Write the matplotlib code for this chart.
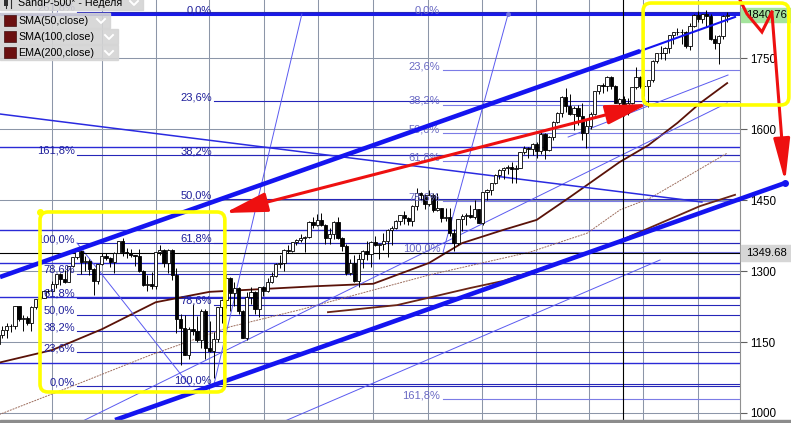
import matplotlib.pyplot as plt
from matplotlib.patches import Rectangle, FancyBboxPatch, FancyArrowPatch
from matplotlib.lines import Line2D
from matplotlib.transforms import IdentityTransform, blended_transform_factory

plt.rcParams['font.family'] = ['Liberation Sans', 'DejaVu Sans']

# weekly candles, week 0 = week ending 2010-10-01, opens = previous close
first_open = 1148.7
closes = [1146.2, 1165.2, 1176.2, 1183.1, 1183.3, 1225.9, 1199.2, 1199.7, 1189.4, 1224.7, 1240.4, 1243.9, 1256.8, 1257.6,
          1271.5, 1293.2, 1283.4, 1276.3, 1310.9, 1329.2, 1343.0, 1319.9, 1321.2, 1304.3, 1279.2, 1313.8, 1332.4, 1328.2,
          1319.7, 1337.4, 1363.6, 1340.2, 1337.8, 1333.3, 1331.1, 1300.2, 1271.0, 1271.5, 1268.5, 1339.7, 1343.8, 1316.1,
          1345.0, 1292.3, 1199.4, 1178.8, 1123.5, 1176.8, 1174.0, 1154.2, 1216.0, 1136.4, 1131.4, 1155.5, 1224.6, 1238.3,
          1285.1, 1253.2, 1263.9, 1215.7, 1158.7, 1244.3, 1255.2, 1219.7, 1265.3, 1257.6,
          1277.8, 1289.1, 1315.4, 1316.3, 1344.9, 1342.6, 1361.2, 1365.7, 1369.6, 1370.9, 1404.2, 1397.1, 1408.5, 1398.1,
          1370.3, 1378.5, 1403.4, 1369.1, 1353.4, 1295.2, 1317.8, 1278.0, 1325.7, 1342.8, 1335.0, 1362.2, 1354.7, 1356.8,
          1362.7, 1386.0, 1391.0, 1405.9, 1418.2, 1411.1, 1406.6, 1437.9, 1465.8, 1460.2, 1440.7, 1460.9, 1428.6, 1433.2,
          1411.9, 1414.2, 1379.9, 1359.9, 1409.2, 1416.2, 1418.1, 1413.6, 1430.2, 1402.4,
          1466.5, 1472.1, 1486.0, 1503.0, 1513.2, 1517.9, 1519.8, 1515.6, 1518.2, 1551.2, 1560.7, 1556.9, 1569.2, 1553.3,
          1588.9, 1555.3, 1582.2, 1614.4, 1633.7, 1667.5, 1649.6, 1630.7, 1643.4, 1626.7, 1592.4, 1606.3, 1631.9, 1680.2,
          1692.1, 1691.7, 1709.7, 1691.4, 1655.8, 1663.5, 1633.0, 1655.2, 1688.0, 1709.9, 1691.8, 1690.5, 1703.2, 1744.5,
          1759.8, 1761.6, 1770.6, 1798.2, 1804.8, 1805.8, 1805.1, 1775.3, 1818.3, 1841.4,
          1831.4, 1842.4, 1838.7, 1790.3, 1782.6, 1797.0, 1838.6, 1840.8]
highs = [1151, 1167, 1184, 1190, 1189, 1227, 1227, 1207, 1205, 1226, 1241, 1247, 1259, 1262,
         1278, 1294, 1296, 1302, 1311, 1330, 1344, 1344, 1332, 1325, 1306, 1315, 1337, 1339,
         1330, 1340, 1364, 1370, 1348, 1346, 1334, 1346, 1303, 1292, 1298, 1341, 1356, 1346,
         1347, 1347, 1307, 1209, 1208, 1182, 1230, 1204, 1220, 1220, 1195, 1171, 1225, 1240,
         1293, 1287, 1277, 1266, 1217, 1255, 1267, 1258, 1266, 1269,
         1285, 1297, 1316, 1333, 1346, 1354, 1362, 1368, 1378, 1374, 1405, 1414, 1420, 1422,
         1400, 1391, 1406, 1415, 1372, 1358, 1325, 1334, 1335, 1344, 1364, 1363, 1375, 1358,
         1381, 1389, 1395, 1407, 1419, 1427, 1414, 1439, 1475, 1467, 1463, 1471, 1464, 1465,
         1434, 1434, 1433, 1389, 1410, 1420, 1423, 1439, 1449, 1432,
         1467, 1473, 1487, 1504, 1515, 1519, 1525, 1531, 1525, 1552, 1564, 1563, 1570, 1573,
         1593, 1592, 1585, 1618, 1635, 1669, 1687, 1674, 1649, 1651, 1654, 1620, 1635, 1681,
         1693, 1698, 1711, 1712, 1694, 1665, 1670, 1665, 1689, 1730, 1712, 1700, 1704, 1745,
         1761, 1775, 1774, 1799, 1806, 1813, 1811, 1808, 1823, 1844,
         1849, 1843, 1851, 1844, 1798, 1798, 1841, 1847]
lows = [1131, 1132, 1159, 1159, 1171, 1177, 1194, 1174, 1186, 1173, 1220, 1233, 1243, 1254,
        1256, 1265, 1271, 1275, 1276, 1309, 1326, 1294, 1299, 1292, 1249, 1273, 1313, 1324,
        1309, 1295, 1337, 1332, 1328, 1329, 1311, 1297, 1268, 1258, 1262, 1263, 1333, 1309,
        1296, 1282, 1168, 1101, 1122, 1115, 1164, 1150, 1137, 1114, 1129, 1074, 1150, 1191,
        1221, 1215, 1226, 1209, 1158, 1155, 1231, 1209, 1202, 1248,
        1255, 1275, 1287, 1306, 1300, 1337, 1340, 1355, 1362, 1340, 1370, 1391, 1395, 1395,
        1357, 1358, 1367, 1367, 1343, 1291, 1292, 1277, 1267, 1306, 1324, 1309, 1352, 1326,
        1345, 1329, 1354, 1389, 1397, 1400, 1397, 1396, 1429, 1450, 1430, 1438, 1425, 1427,
        1403, 1406, 1373, 1343, 1356, 1385, 1398, 1411, 1410, 1401,
        1398, 1451, 1461, 1483, 1494, 1495, 1506, 1485, 1485, 1517, 1547, 1538, 1546, 1539,
        1548, 1536, 1553, 1577, 1612, 1626, 1636, 1630, 1598, 1608, 1577, 1560, 1601, 1630,
        1675, 1676, 1681, 1684, 1654, 1640, 1627, 1630, 1653, 1684, 1687, 1670, 1646, 1700,
        1740, 1747, 1746, 1761, 1779, 1799, 1779, 1772, 1768, 1815,
        1827, 1823, 1815, 1789, 1770, 1738, 1791, 1826]
opens = [first_open] + closes[:-1]
weeks = list(range(len(closes)))

# moving averages (week, price)
sma50_week = [1, 14, 26, 39, 52, 65, 78, 91.5, 105, 113, 123, 131, 139, 151, 158, 165, 170.5, 177]
sma50_val = [1106, 1133, 1177, 1234, 1256, 1262, 1268, 1273, 1317, 1359, 1387, 1408, 1456, 1530, 1566, 1613, 1655, 1697]
sma100_week = [1, 19.5, 37.6, 56.9, 73.8, 105.2, 129.4, 143.2, 151.1, 158.4, 177]
sma100_val = [996, 1059, 1122, 1182, 1218, 1292, 1340, 1380, 1429, 1454, 1549]
ema200_week = [80.6, 97.3, 114.9, 122.9, 146.3, 170.4, 178.9]
ema200_val = [1213, 1228, 1264, 1279, 1346, 1437, 1461]

# fibonacci sets: (0% price, 100% price, levels, label week, line start week)
fib_a = (1843.0, 1061.3, [0, 23.6, 38.2, 50, 61.8, 78.6, 100], 52.6, 53.1)
fib_b = (1843.0, 1340.2, [0, 23.6, 38.2, 50, 61.8, 78.6, 100, 161.8], 107.7, 108.4)
fib_c = (1057.0, 1359.2, [0, 23.6, 38.2, 50, 61.8, 78.6, 100, 161.8, 261.8], 19.5, 20.0)
extra_levels = [1562.0, 1386.6, 1316.9, 1245.1, 1105.6]
top_level = 1843.0

price_ticks = [1000, 1150, 1300, 1450, 1600, 1750]
grid_weeks = [14, 26, 39.1, 51.9, 65.2, 78.2, 91.5, 104.8, 117.8, 130.8, 143.6, 156.7, 170]
cursor_week, cursor_price, cursor_text = 151.8, 1338.0, '1349.68'
last_price = 1840.76

fig = plt.figure(figsize=(7.91, 4.23), dpi=100)
ax = fig.add_axes([0, 3 / 423, 740 / 791, 420 / 423])
ax.set_xlim(1.4, 180.1)
ax.set_ylim(985.2, 1872.6)
ax.set_facecolor('white')

for w in grid_weeks:
    ax.axvline(w, color='#8c96a8', lw=0.75, zorder=1)
for p in price_ticks:
    ax.axhline(p, color='#8c96a8', lw=0.75, zorder=1)

# fib levels
def fib_price(p0, p100, r):
    return p0 + (p100 - p0) * r / 100.0

for (p0, p100, levels, lab_w, start_w), lcol, tcol in [(fib_c, '#2626b8', '#1e1e9a'),
                                                       (fib_a, '#2626b8', '#1e1e9a'),
                                                       (fib_b, '#7c7ce6', '#6a6ac4')]:
    for r in levels:
        p = fib_price(p0, p100, r)
        ax.plot([start_w, 181], [p, p], color=lcol, lw=0.8, zorder=2)
        ax.text(lab_w, p + 2, f'{r:.1f}'.replace('.', ',') + '%', ha='right', va='baseline',
                fontsize=8, color=tcol, zorder=6)
for p in extra_levels:
    ax.axhline(p, color='#2a2ad6', lw=1.0, zorder=2)
ax.axhline(top_level, color='#1a1ae6', lw=2.2, zorder=3)

# moving averages
ax.plot(sma100_week, sma100_val, color='#9c6c5c', lw=0.7, ls=(0, (2, 1)), zorder=3)
ax.plot(ema200_week, ema200_val, color='#6a2414', lw=1.3, zorder=3)
ax.plot(sma50_week, sma50_val, color='#5a1208', lw=1.3, zorder=3)

# candles
ax.vlines(weeks, lows, highs, color='black', lw=0.7, zorder=4)
bodies_lo = [min(o, c) for o, c in zip(opens, closes)]
bodies_h = [abs(c - o) for o, c in zip(opens, closes)]
colors = ['white' if c >= o else 'black' for o, c in zip(opens, closes)]
ax.bar(weeks, bodies_h, bottom=bodies_lo, width=0.78, color=colors, edgecolor='black', lw=0.6, zorder=5)

# thin trend and fib anchor lines
thin = dict(color='#5a5af0', lw=0.7, zorder=3)
ax.plot([20.0, 47.3], [1359.2, 1057.0], **thin)
ax.plot([53.1, 74.3], [1061.3, 1843.0], **thin)
ax.plot([108.4, 124.1], [1340.2, 1843.0], **thin)
ax.plot([124.1], [1843.0], 'o', color='#7070e0', ms=2.5, zorder=3)
ax.plot([21.4, 177.0], [983.1, 1655.0], **thin)
ax.plot([70.2, 160.8], [983.1, 1323.3], **thin)
ax.plot([138.6, 177.2], [1583.1, 1714.1], **thin)
ax.plot([1.4, 170.9], [1631.7, 1445.8], color='#2a2ae0', lw=1.1, zorder=3)

# channel
ax.plot([1.4, 156.0], [1287.3, 1764.8], color='#1414f0', lw=3.3, zorder=6, solid_capstyle='butt')
ax.plot([156.0, 178.9], [1764.8, 1836.7], color='#1414f0', lw=1.5, zorder=6)
ax.plot([29.2, 191.0], [985.2, 1486.0], color='#1414f0', lw=3.3, zorder=6, clip_on=False,
        solid_capstyle='butt')
ax.plot([191.0], [1486.0], 'o', color='#1414f0', ms=4, zorder=6, clip_on=False)

# crosshair
ax.axvline(cursor_week, color='black', lw=0.8, zorder=4)
ax.axhline(cursor_price, color='black', lw=0.8, zorder=4)

# red arrows
ax.add_patch(FancyArrowPatch((55.7, 1422.6), (157.9, 1652.9),
                             arrowstyle='<|-|>,head_length=2.6,head_width=0.6', mutation_scale=10,
                             color='#ee1010', lw=2.2, shrinkA=0, shrinkB=0, zorder=8))
ax.plot([180.1, 181.8, 185.4, 187.8], [1872.6, 1843.0, 1805.0, 1847.2], color='#ee1010', lw=2.2,
        clip_on=False, zorder=8, solid_joinstyle='miter')
ax.annotate('', xy=(191.0, 1488.1), xytext=(187.8, 1847.2), annotation_clip=False,
            arrowprops=dict(arrowstyle='-|>,head_length=2.6,head_width=0.5', mutation_scale=10,
                            color='#ee1010', lw=2.2, shrinkA=0, shrinkB=0), zorder=8)

# right axis
ax.yaxis.tick_right()
ax.set_yticks(price_ticks)
ax.set_yticklabels([str(p) for p in price_ticks])
ax.tick_params(axis='y', direction='out', length=5, width=0.8, pad=2, labelsize=8.4,
               color='#606060', labelcolor='black')
ax.set_xticks([])
for s in ['left', 'top', 'bottom']:
    ax.spines[s].set_visible(False)
ax.spines['right'].set_color('#909090')

bt = blended_transform_factory(ax.transAxes, ax.transData)
ax.add_patch(Rectangle((1.0015, last_price - 14), 0.068, 28, transform=bt, color='#a4e49c',
                       clip_on=False, zorder=7))
ax.text(1.008, last_price, f'{last_price:.2f}', transform=bt, ha='left', va='center',
        fontsize=8.1, color='black', zorder=7.5, clip_on=False)
ax.add_patch(Rectangle((1.0015, cursor_price - 16), 0.068, 32, transform=bt, color='#d6d6d6',
                       clip_on=False, zorder=7))
ax.text(1.008, cursor_price, cursor_text, transform=bt, ha='left', va='center',
        fontsize=8.1, color='black', zorder=8, clip_on=False)

# yellow boxes (corners given in week/price)
fig.canvas.draw()
for (w0, p0), (w1, p1) in [((11.06, 1424.7), (55.7, 1044.4)), ((156.7, 1866.2), (191.9, 1650.8))]:
    x0, y0 = ax.transData.transform((w0, p1))
    x1, y1 = ax.transData.transform((w1, p0))
    fig.add_artist(FancyBboxPatch((x0, y0), x1 - x0, y1 - y0, boxstyle='round,pad=0,rounding_size=8',
                                  transform=IdentityTransform(), fill=False, edgecolor='#ffff00',
                                  lw=2.6, zorder=9))
ax.plot([11.06], [1424.7], 'o', color='#ffff00', ms=4, zorder=9, clip_on=False)

# bottom strip
fig.add_artist(Rectangle((0, 0), 1, 3 / 423, transform=fig.transFigure, color='#8c8c8c'))

# legend rows (pixel layout from top-left)
legend_rows = ['SandP-500* - Неделя', 'SMA(50,close)', 'SMA(100,close)', 'EMA(200,close)']
row_centers = [3, 21, 37, 53]
row_widths = [143, 110, 118, 118]
W, H = 791, 423
for i, (txt, cy, bw) in enumerate(zip(legend_rows, row_centers, row_widths)):
    fig.add_artist(Rectangle((0, 1 - (cy + 7.5) / H), bw / W, 15 / H, transform=fig.transFigure,
                             color='#d4d4d4', alpha=0.9, zorder=20))
    fig.text(18 / W, 1 - cy / H, txt, ha='left', va='center', fontsize=7.7, color='black', zorder=21)
    if i == 0:
        fig.add_artist(Line2D([6 / W, 6 / W], [1 - (cy - 5) / H, 1 - (cy + 5) / H],
                              transform=fig.transFigure, color='#303030', lw=0.8, zorder=21))
        fig.add_artist(Rectangle((4 / W, 1 - (cy + 3) / H), 4 / W, 6 / H, transform=fig.transFigure,
                                 facecolor='#303030', zorder=21))
        fig.add_artist(Line2D([11 / W, 11 / W], [1 - (cy - 5) / H, 1 - (cy + 5) / H],
                              transform=fig.transFigure, color='#303030', lw=0.8, zorder=21))
    else:
        fig.add_artist(Rectangle((4 / W, 1 - (cy + 5.5) / H), 12 / W, 11 / H, transform=fig.transFigure,
                                 facecolor='#6b1010', edgecolor='#401010', lw=0.5, zorder=21))
    cx = bw - 9
    fig.add_artist(Line2D([(cx - 4) / W, cx / W, (cx + 4) / W],
                          [1 - (cy - 2) / H, 1 - (cy + 2) / H, 1 - (cy - 2) / H],
                          transform=fig.transFigure, color='white', lw=1.4, zorder=21))

fig.savefig('out.png', dpi=100)
